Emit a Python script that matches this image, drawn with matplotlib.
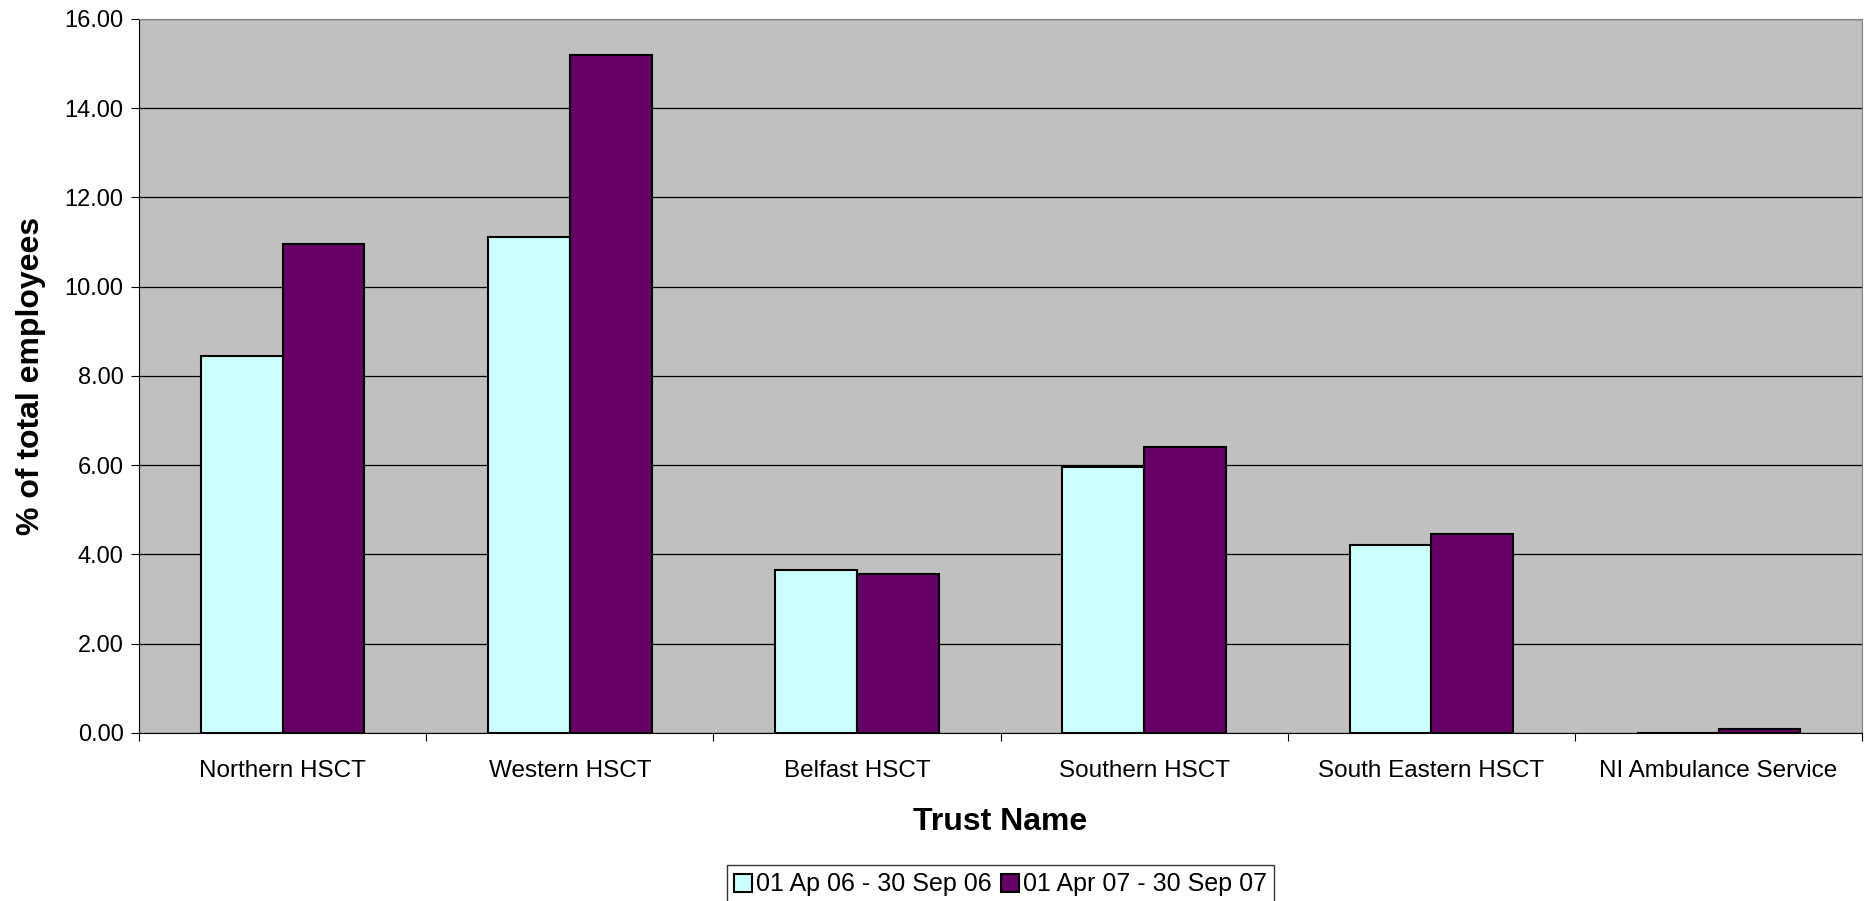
# Sickness absence by trust - bar chart recreation
import numpy as np
import matplotlib.pyplot as plt

plt.rcParams['font.family'] = ['Liberation Sans', 'DejaVu Sans']

# %%
# Data
trusts = ["Northern HSCT", "Western HSCT", "Belfast HSCT", "Southern HSCT",
          "South Eastern HSCT", "NI Ambulance Service"]
period_06 = [8.45, 11.12, 3.65, 5.97, 4.21, 0.0]
period_07 = [10.96, 15.20, 3.57, 6.40, 4.45, 0.10]
series_names = ["01 Ap 06 - 30 Sep 06", "01 Apr 07 - 30 Sep 07"]
yticks = np.arange(0, 16.01, 2)

# %%
fig = plt.figure(figsize=(18.65, 9.01), dpi=100)
ax = fig.add_axes([0.0745, 0.1865, 0.924, 0.7925])

x = np.arange(len(trusts))
w = 0.285
ax.bar(x - w / 2, period_06, width=w, color='#ccffff', edgecolor='black',
       linewidth=1.5, label=series_names[0], zorder=3)
ax.bar(x + w / 2, period_07, width=w, color='#660066', edgecolor='black',
       linewidth=1.5, label=series_names[1], zorder=3)

ax.set_facecolor('#c0c0c0')
ax.set_xlim(-0.5, len(trusts) - 0.5)
ax.set_ylim(0, 16)
ax.set_yticks(yticks)
ax.set_yticklabels(['%.2f' % v for v in yticks], fontsize=17)
ax.yaxis.grid(True, color='black', linewidth=0.9, zorder=1)

# category boundaries get the tick marks, names sit in between
ax.set_xticks(np.arange(-0.5, len(trusts)), labels=[])
ax.set_xticks(x, labels=trusts, minor=True, fontsize=17.5)
ax.tick_params(axis='x', which='major', length=6, direction='out')
ax.tick_params(axis='x', which='minor', length=0, pad=19.5)
ax.tick_params(axis='y', length=6, direction='out', pad=5)

for s in ['top', 'right']:
    ax.spines[s].set_color('#808080')
for s in ['left', 'bottom']:
    ax.spines[s].set_color('black')

ax.set_xlabel('Trust Name', fontsize=23, fontweight='bold', labelpad=18)
ax.set_ylabel('% of total employees', fontsize=23, fontweight='bold', labelpad=13)

# legend sits under the middle of the plot area, bottom edge runs off the image
leg = fig.legend(loc='upper center', bbox_to_anchor=(0.5365, 0.04), ncol=2,
                 fontsize=18, frameon=True, fancybox=False, edgecolor='black',
                 handlelength=0.72, handleheight=0.72, handletextpad=0.16,
                 columnspacing=0.36, borderpad=0.3, borderaxespad=0.0)
leg.get_frame().set_linewidth(1.0)

fig.savefig('out.png', dpi=100)
